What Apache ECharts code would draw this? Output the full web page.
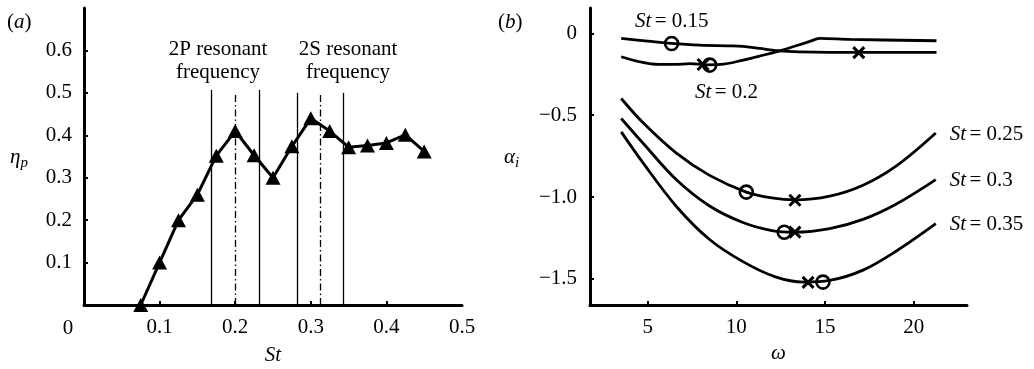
<!DOCTYPE html>
<html><head><meta charset="utf-8">
<script src="https://cdn.jsdelivr.net/npm/echarts@6/dist/echarts.min.js"></script>
<style>html,body{margin:0;padding:0;background:#fff}#c{width:1034px;height:369px}</style>
</head><body><div id="c"></div>
<script>
// ---- Panel (a) data ----
const stValues = [0.075,0.1,0.125,0.15,0.175,0.2,0.225,0.25,0.275,0.3,0.325,0.35,0.375,0.4,0.425,0.45];
const etaP = [0,0.1,0.2,0.26,0.352,0.41,0.353,0.30,0.374,0.44,0.41,0.372,0.376,0.382,0.401,0.362];
const bandLinesX = [0.168,0.232,0.282,0.343];
const bandLinesTop = [0.507,0.507,0.5,0.5];
const resonantX = [0.2,0.313];
const resonantTop = [0.5,0.5];
const xTicksA = [0.1,0.2,0.3,0.4,0.5];
const yTicksA = [0.1,0.2,0.3,0.4,0.5,0.6];
// ---- Panel (b) data ----
const curve015 = [[3.51,-0.031],[5.0,-0.047],[6.33,-0.061],[7.93,-0.072],[9.5,-0.076],[10.37,-0.079],[11.31,-0.092],[12.44,-0.107],[13.57,-0.113],[15.26,-0.116],[18,-0.116],[21.28,-0.116]];
const curve020 = [[3.51,-0.143],[4.6,-0.175],[5.6,-0.19],[6.5,-0.19],[7.4,-0.185],[8.3,-0.192],[9.1,-0.19],[10.4,-0.163],[11.3,-0.139],[12.44,-0.107],[14.1,-0.051],[14.7,-0.031],[16.4,-0.037],[21.28,-0.045]];
const curve025 = [[3.51,-0.398],[4.73,-0.545],[6.62,-0.732],[8.49,-0.868],[10.56,-0.970],[12.0,-1.006],[13.3,-1.018],[15.26,-0.995],[17.14,-0.928],[19.02,-0.81],[21.24,-0.609]];
const curve030 = [[3.51,-0.520],[4.73,-0.67],[6.62,-0.895],[8.49,-1.055],[10.37,-1.156],[12.0,-1.205],[13.3,-1.215],[15.26,-1.193],[17.14,-1.137],[19.02,-1.043],[21.24,-0.894]];
const curve035 = [[3.51,-0.602],[4.73,-0.79],[6.62,-1.058],[8.49,-1.26],[10.37,-1.395],[12.2,-1.488],[13.8,-1.52],[15.26,-1.51],[17.14,-1.447],[19.02,-1.33],[21.24,-1.163]];
const circlePts = [[6.35,-0.062],[8.5,-0.194],[10.56,-0.970],[12.7,-1.215],[14.88,-1.52]];
const crossPts = [[16.9,-0.118],[8.12,-0.19],[13.3,-1.02],[13.3,-1.215],[14.04,-1.522]];
const curveLabels = ['0.15','0.2','0.25','0.3','0.35'];
const xTicksB = [5,10,15,20];
const yTicksB = [0,-0.5,-1,-1.5];

const FONT = "'Liberation Serif','DejaVu Serif',serif";
const FS = 21;
const chart = echarts.init(document.getElementById('c'), null, {renderer:'canvas'});

const axisCommon = {
  axisLine:{show:true,onZero:false,lineStyle:{color:'#000',width:3}},
  axisTick:{show:true,inside:true,length:4,lineStyle:{color:'#000',width:2}},
  splitLine:{show:false},
  axisLabel:{color:'#000',fontSize:FS,fontFamily:FONT}
};
const rich = {i:{fontStyle:'italic',fontSize:FS,fontFamily:FONT,color:'#000'},r:{fontSize:FS,fontFamily:FONT,color:'#000'}};

function vline(x, top){ return [{coord:[x,0]},{coord:[x,top]}]; }

const series = [
  {type:'line',xAxisIndex:0,yAxisIndex:0,data:stValues.map((s,i)=>[s,etaP[i]]),
   symbol:'triangle',symbolSize:[15,14],clip:false,
   itemStyle:{color:'#000',opacity:1},lineStyle:{color:'#000',width:3},z:5,
   markLine:{silent:true,symbol:'none',label:{show:false},animation:false,
     data:[
       ...bandLinesX.map((x,i)=>vline(x,bandLinesTop[i]).map(p=>Object.assign({},p,{lineStyle:{type:'solid',width:1.3,color:'#000'}}))),
       ...resonantX.map((x,i)=>vline(x,resonantTop[i]).map(p=>Object.assign({},p,{lineStyle:{type:[7,3,1.5,3],width:1.3,color:'#000'}})))
     ]}}
];
const curves = [curve015,curve020,curve025,curve030,curve035];
curves.forEach((c,k)=>{
  series.push({type:'line',xAxisIndex:1,yAxisIndex:1,data:c,smooth:0.35,showSymbol:false,symbol:'none',
    lineStyle:{color:'#000',width:2.8},
    endLabel:{show:k>=2,formatter:'{i|St} {r|= '+curveLabels[k]+'}',rich:rich,offset:[6,1]}});
});
series.push({type:'scatter',xAxisIndex:1,yAxisIndex:1,data:circlePts,symbol:'circle',symbolSize:13,
  itemStyle:{color:'rgba(0,0,0,0)',borderColor:'#000',borderWidth:2.6,opacity:1},z:6});
series.push({type:'scatter',xAxisIndex:1,yAxisIndex:1,data:crossPts,symbol:'path://M0,0L10,10M10,0L0,10',symbolSize:11,
  itemStyle:{color:'rgba(0,0,0,0)',borderColor:'#000',borderWidth:3,opacity:1},z:6});

const option = {
  backgroundColor:'#fff',
  animation:false,
  grid:[
    {left:84,top:8,width:378,height:297,outerBoundsMode:'none',containLabel:false},
    {left:590,top:8,width:377,height:297,outerBoundsMode:'none',containLabel:false}
  ],
  xAxis:[
    Object.assign({},axisCommon,{gridIndex:0,type:'value',min:0,max:0.5,interval:0.1,
      name:'{i|St}',nameLocation:'middle',nameGap:40,nameTextStyle:{rich:rich},
      axisLabel:Object.assign({},axisCommon.axisLabel,{margin:12,customValues:xTicksA,formatter:v=>v.toFixed(1)}),
      axisTick:Object.assign({},axisCommon.axisTick,{customValues:xTicksA.slice(0,4)})}),
    Object.assign({},axisCommon,{gridIndex:1,type:'value',min:1.75,max:23,
      name:'{i|ω}',nameLocation:'middle',nameGap:27,nameTextStyle:{rich:rich},
      axisLabel:Object.assign({},axisCommon.axisLabel,{margin:12,customValues:xTicksB}),
      axisTick:Object.assign({},axisCommon.axisTick,{customValues:xTicksB})})
  ],
  yAxis:[
    Object.assign({},axisCommon,{gridIndex:0,type:'value',min:0,max:0.7,interval:0.1,
      axisLabel:Object.assign({},axisCommon.axisLabel,{margin:12,customValues:yTicksA,formatter:v=>v.toFixed(1)}),
      axisTick:Object.assign({},axisCommon.axisTick,{customValues:yTicksA})}),
    Object.assign({},axisCommon,{gridIndex:1,type:'value',min:-1.66,max:0.155,
      axisLabel:Object.assign({},axisCommon.axisLabel,{margin:13,customValues:yTicksB,
        formatter:v=>Math.abs(v)<1e-9?'0':'\u2212'+Math.abs(v).toFixed(1)}),
      axisTick:Object.assign({},axisCommon.axisTick,{customValues:yTicksB})})
  ],
  graphic:[
    {type:'text',x:7,y:22,style:{text:'{r|(}{i|a}{r|)}',rich:rich,verticalAlign:'middle'}},
    {type:'text',x:498,y:22,style:{text:'{r|(}{i|b}{r|)}',rich:rich,verticalAlign:'middle'}},
    {type:'text',x:68,y:328,style:{text:'0',font:FS+'px '+FONT,fill:'#000',align:'center',verticalAlign:'middle'}},
    {type:'text',x:218,y:49,style:{text:'2P resonant',font:FS+'px '+FONT,fill:'#000',align:'center',verticalAlign:'middle'}},
    {type:'text',x:218,y:72,style:{text:'frequency',font:FS+'px '+FONT,fill:'#000',align:'center',verticalAlign:'middle'}},
    {type:'text',x:348,y:49,style:{text:'2S resonant',font:FS+'px '+FONT,fill:'#000',align:'center',verticalAlign:'middle'}},
    {type:'text',x:348,y:72,style:{text:'frequency',font:FS+'px '+FONT,fill:'#000',align:'center',verticalAlign:'middle'}},
    {type:'text',x:635,y:21,style:{text:'{i|St} {r|= 0.15}',rich:rich,verticalAlign:'middle'}},
    {type:'text',x:695,y:92,style:{text:'{i|St} {r|= 0.2}',rich:rich,verticalAlign:'middle'}},
    {type:'text',x:10,y:157,style:{text:'{i|η}{s|p}',rich:{i:rich.i,s:{fontStyle:'italic',fontSize:15,fontFamily:FONT,color:'#000',padding:[12,0,0,0]}},verticalAlign:'middle'}},
    {type:'text',x:504,y:157,style:{text:'{i|α}{s|i}',rich:{i:rich.i,s:{fontStyle:'italic',fontSize:15,fontFamily:FONT,color:'#000',padding:[12,0,0,0]}},verticalAlign:'middle'}}
  ],
  series:series
};
chart.setOption(option);
</script></body></html>
